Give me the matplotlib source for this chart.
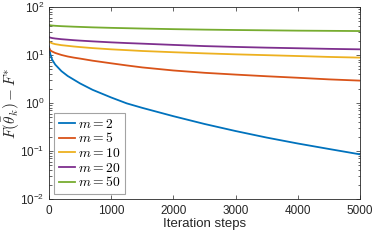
import matplotlib
matplotlib.use("Agg")
import matplotlib.pyplot as plt
from matplotlib.ticker import FixedLocator, FixedFormatter, LogLocator, NullFormatter

plt.rcParams['font.family'] = ['Liberation Sans', 'DejaVu Sans']
plt.rcParams['mathtext.fontset'] = 'cm'

iters = [0, 20, 50, 100, 200, 300, 400, 500, 700, 1000, 1250, 1500, 2000, 2500, 3000, 3500, 4000, 4500, 5000]
m2 = [15.0, 10.5, 8.0, 6.3, 4.6, 3.65, 3.05, 2.55, 1.88, 1.3, 0.98, 0.79, 0.53, 0.365, 0.26, 0.19, 0.143, 0.11, 0.085]
m5 = [14.0, 12.5, 11.8, 11.0, 10.0, 9.3, 8.8, 8.4, 7.6, 6.7, 6.05, 5.5, 4.75, 4.25, 3.9, 3.6, 3.35, 3.1, 2.92]
m10 = [19.0, 18.3, 17.5, 16.8, 16.0, 15.5, 15.0, 14.6, 13.9, 13.1, 12.6, 12.1, 11.4, 10.8, 10.3, 9.9, 9.5, 9.1, 8.8]
m20 = [23.5, 23.0, 22.5, 22.0, 21.3, 20.8, 20.3, 19.9, 19.2, 18.3, 17.7, 17.2, 16.2, 15.3, 14.7, 14.2, 13.8, 13.4, 13.1]
m50 = [42.0, 41.5, 41.0, 40.5, 39.8, 39.3, 38.8, 38.4, 37.6, 36.7, 36.1, 35.5, 34.5, 33.7, 33.1, 32.6, 32.1, 31.8, 31.5]
series = [m2, m5, m10, m20, m50]
labels = ['$m = 2$', '$m = 5$', '$m = 10$', '$m = 20$', '$m = 50$']
colors = ['#0072BD', '#D95319', '#EDB120', '#7E2F8E', '#77AC30']
xticks = [0, 1000, 2000, 3000, 4000, 5000]
yticks = [1e-2, 1e-1, 1e0, 1e1, 1e2]
ytick_labels = [r'$\mathregular{10^{-2}}$', r'$\mathregular{10^{-1}}$', r'$\mathregular{10^{0}}$',
                r'$\mathregular{10^{1}}$', r'$\mathregular{10^{2}}$']

fig = plt.figure(figsize=(3.75, 2.4), dpi=100)
ax = fig.add_axes([0.1307, 0.171, 0.8293, 0.8])

for y, lab, c in zip(series, labels, colors):
    ax.plot(iters, y, color=c, lw=1.3, label=lab)

ax.set_yscale('log')
ax.set_xlim(0, 5000)
ax.set_ylim(1e-2, 1e2)
ax.xaxis.set_major_locator(FixedLocator(xticks))
ax.yaxis.set_major_locator(FixedLocator(yticks))
ax.yaxis.set_major_formatter(FixedFormatter(ytick_labels))
ax.yaxis.set_minor_locator(LogLocator(base=10, subs=range(2, 10)))
ax.yaxis.set_minor_formatter(NullFormatter())

gray = '#262626'
for s in ax.spines.values():
    s.set_color(gray)
    s.set_linewidth(0.6)
ax.tick_params(which='both', direction='in', top=True, right=True, color=gray,
               labelsize=8.5, labelcolor='#262626', width=0.5)
ax.tick_params(which='major', length=3)
ax.tick_params(which='minor', length=1.8)
ax.tick_params(axis='x', pad=4)

ax.set_xlabel('Iteration steps', fontsize=9.5, color='#262626', labelpad=1)
ax.set_ylabel(r'$F(\bar{\theta}_k) - F^{*}$', fontsize=11, color='#262626')
ax.yaxis.set_label_coords(-0.088, 0.5)

leg = ax.legend(loc='lower left', fontsize=9.8, frameon=True, fancybox=False,
                edgecolor='#8c8c8c', handlelength=1.2, handletextpad=0.25,
                borderpad=0.3, labelspacing=0.05, borderaxespad=0.4)
leg.get_frame().set_linewidth(0.8)

fig.savefig('out.png', dpi=100)
